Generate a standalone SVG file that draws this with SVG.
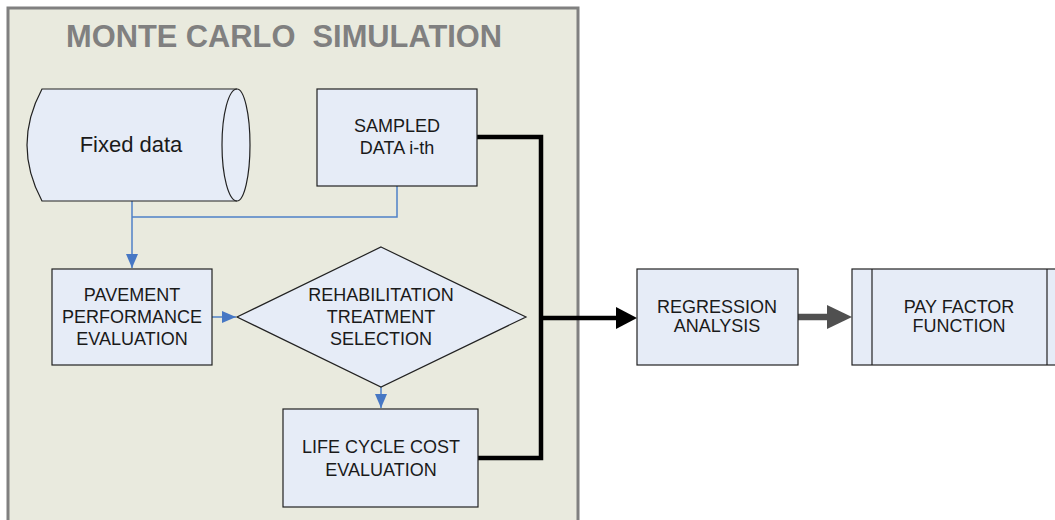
<svg xmlns="http://www.w3.org/2000/svg" width="1055" height="520" viewBox="0 0 1055 520">
<defs>
<style>
.node{fill:#E6ECF7;stroke:#222;stroke-width:1.2}
.t{font-family:"Liberation Sans",Arial,sans-serif;font-size:18px;fill:#1a1a1a;text-anchor:middle}
.blue{fill:none;stroke:#4F81C7;stroke-width:1.5}
.blk{fill:none;stroke:#000;stroke-width:4.5;stroke-linecap:round;stroke-linejoin:miter}
</style>
<marker id="ab" markerWidth="14" markerHeight="12" refX="14" refY="6" orient="auto" markerUnits="userSpaceOnUse"><path d="M0,0 L14,6 L0,12 Z" fill="#4677C4"/></marker>
</defs>
<rect width="1055" height="520" fill="#fff"/>
<g id="monte-carlo">
<rect x="8" y="8" width="570" height="530" fill="#E9EADE" stroke="#808080" stroke-width="3"/>
<text x="284" y="47" font-family="Liberation Sans,Arial,sans-serif" font-size="32" font-weight="bold" fill="#808080" text-anchor="middle" textLength="436" lengthAdjust="spacingAndGlyphs" xml:space="preserve">MONTE CARLO  SIMULATION</text>
</g>
<g id="connectors">
<path class="blue" d="M132,201 L132,268" marker-end="url(#ab)"/>
<path class="blue" d="M132,217 L397,217 L397,186"/>
<path class="blue" d="M212,317 L236,317" marker-end="url(#ab)"/>
<path class="blue" d="M381,387 L381,408" marker-end="url(#ab)"/>
<path class="blk" d="M477,137 L541,137 L541,458 L478,458"/>
<path d="M541,318 L620,318" stroke="#000" stroke-width="4.5" fill="none"/>
<path d="M616,307 L637,318 L616,329 Z" fill="#000"/>
<path d="M798,317 L830,317" stroke="#505050" stroke-width="6.5" stroke-linecap="round" fill="none"/>
<path d="M827,305 L852,317 L827,329 Z" fill="#505050"/>
</g>
<g id="fixed-data">
<path class="node" d="M42,89 L237,89 A13,56 0 0 1 237,201 L42,201 Q12,145 42,89 Z"/>
<path fill="none" stroke="#222" stroke-width="1.2" d="M237,89 A15,56 0 0 0 237,201"/>
<text class="t" x="131" y="152" style="font-size:22px">Fixed data</text>
</g>
<g id="sampled-data">
<rect class="node" x="317" y="89" width="160" height="97"/>
<text class="t" x="397" y="132">SAMPLED</text>
<text class="t" x="397" y="154">DATA i-th</text>
</g>
<g id="pavement">
<rect class="node" x="52" y="269" width="160" height="96"/>
<text class="t" x="132" y="301">PAVEMENT</text>
<text class="t" x="132" y="323">PERFORMANCE</text>
<text class="t" x="132" y="345">EVALUATION</text>
</g>
<g id="rehab">
<path class="node" d="M381,247 L526,317 L381,387 L237,317 Z"/>
<text class="t" x="381" y="301">REHABILITATION</text>
<text class="t" x="381" y="323">TREATMENT</text>
<text class="t" x="381" y="345">SELECTION</text>
</g>
<g id="lcc">
<rect class="node" x="283" y="409" width="195" height="98"/>
<text class="t" x="381" y="453">LIFE CYCLE COST</text>
<text class="t" x="381" y="476">EVALUATION</text>
</g>
<g id="regression">
<rect class="node" x="637" y="269" width="161" height="96"/>
<text class="t" x="717" y="313">REGRESSION</text>
<text class="t" x="717" y="332">ANALYSIS</text>
</g>
<g id="pay-factor">
<rect class="node" x="852" y="269" width="215" height="96"/>
<line x1="872" y1="269" x2="872" y2="365" stroke="#222" stroke-width="1.2"/>
<line x1="1047" y1="269" x2="1047" y2="365" stroke="#222" stroke-width="1.2"/>
<text class="t" x="959" y="313">PAY FACTOR</text>
<text class="t" x="959" y="332">FUNCTION</text>
</g>
</svg>
